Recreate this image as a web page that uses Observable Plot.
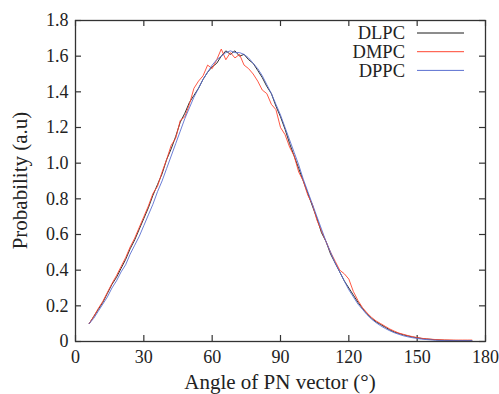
<!DOCTYPE html>
<html>
<head>
<meta charset="utf-8">
<script src="https://cdn.jsdelivr.net/npm/d3@7"></script>
<script src="https://cdn.jsdelivr.net/npm/@observablehq/plot@0.6"></script>
<style>
  html, body { margin: 0; padding: 0; background: #fff; font-family: "Liberation Serif", serif; }
</style>
</head>
<body>
<div id="chart"></div>
<script>
// Angles (degrees), shared by all three series
const angles = [6,8,10,12,14,16,18,20,22,24,26,28,30,32,34,36,38,40,42,44,46,48,50,52,54,56,58,60,62,64,66,68,70,72,74,76,78,80,82,84,86,88,90,92,94,96,98,100,102,104,106,108,110,112,114,116,118,120,122,124,126,128,130,132,134,136,138,140,142,144,146,148,150,152,154,156,158,160,162,164,166,168,170,172,174];

const dlpc = [0.10,0.14,0.18,0.22,0.27,0.32,0.36,0.41,0.46,0.52,0.57,0.63,0.69,0.75,0.82,0.88,0.94,1.02,1.08,1.15,1.23,1.28,1.34,1.38,1.42,1.47,1.51,1.54,1.56,1.60,1.63,1.61,1.63,1.60,1.61,1.58,1.56,1.52,1.48,1.43,1.39,1.32,1.26,1.19,1.11,1.04,0.97,0.90,0.83,0.76,0.69,0.61,0.56,0.49,0.44,0.39,0.34,0.30,0.26,0.22,0.185,0.155,0.13,0.11,0.095,0.08,0.065,0.053,0.045,0.037,0.031,0.025,0.021,0.017,0.014,0.012,0.010,0.008,0.007,0.006,0.006,0.005,0.005,0.005,0.005];

const dmpc = [0.10,0.14,0.185,0.225,0.275,0.325,0.37,0.42,0.47,0.53,0.58,0.64,0.70,0.76,0.83,0.87,0.95,1.02,1.10,1.14,1.24,1.26,1.33,1.42,1.46,1.49,1.55,1.53,1.58,1.64,1.58,1.62,1.59,1.61,1.55,1.53,1.50,1.46,1.41,1.39,1.33,1.30,1.20,1.16,1.09,1.04,0.95,0.90,0.82,0.77,0.68,0.62,0.56,0.50,0.45,0.40,0.38,0.35,0.28,0.23,0.19,0.16,0.135,0.115,0.10,0.085,0.07,0.058,0.047,0.04,0.033,0.027,0.022,0.018,0.015,0.013,0.011,0.010,0.009,0.009,0.008,0.008,0.008,0.008,0.008];

const dppc = [0.10,0.13,0.17,0.21,0.25,0.30,0.34,0.39,0.43,0.49,0.54,0.59,0.65,0.71,0.77,0.84,0.90,0.97,1.04,1.11,1.18,1.25,1.31,1.37,1.42,1.47,1.51,1.55,1.58,1.60,1.62,1.63,1.62,1.62,1.61,1.59,1.56,1.53,1.49,1.44,1.39,1.33,1.27,1.20,1.13,1.06,0.99,0.91,0.84,0.77,0.70,0.63,0.56,0.50,0.44,0.39,0.34,0.29,0.25,0.21,0.18,0.15,0.125,0.105,0.088,0.073,0.06,0.049,0.04,0.032,0.026,0.021,0.017,0.013,0.011,0.009,0.007,0.006,0.005,0.005,0.005,0.005,0.005,0.005,0.005];

const seriesNames = ["DLPC", "DMPC", "DPPC"];
const seriesColors = ["#1a1a1a", "#ff4530", "#5a6fd0"];
const xTicks = [0, 30, 60, 90, 120, 150, 180];
const yTicks = [0, 0.2, 0.4, 0.6, 0.8, 1.0, 1.2, 1.4, 1.6, 1.8];
const xLabel = "Angle of PN vector (°)";
const yLabel = "Probability (a.u)";

const seriesValues = [dlpc, dmpc, dppc];
const data = seriesNames.flatMap((name, i) =>
  angles.map((a, j) => ({series: name, angle: a, p: seriesValues[i][j]}))
);

const W = 499, H = 394;
const mL = 75, mR = 14, mT = 20, mB = 53;
const tickLen = 6;
const xPerPx = 180 / (W - mL - mR);
const yPerPx = 1.8 / (H - mT - mB);
const SERIF = "Liberation Serif";

const plot = Plot.plot({
  width: W,
  height: H,
  marginLeft: mL,
  marginRight: mR,
  marginTop: mT,
  marginBottom: mB,
  x: {domain: [0, 180], ticks: xTicks, label: null},
  y: {domain: [0, 1.8], ticks: yTicks, label: null},
  color: {domain: seriesNames, range: seriesColors},
  marks: [
    Plot.axisX({ticks: xTicks, tickSize: 0, tickPadding: 9, tickFormat: d => String(d), label: null, fontSize: 18, fontFamily: SERIF, fill: "#222"}),
    Plot.axisY({ticks: yTicks, tickSize: 0, tickPadding: 7, tickFormat: d => d === 0 ? "0" : d3.format(".1f")(d), label: null, fontSize: 18, fontFamily: SERIF, fill: "#222"}),
    Plot.ruleX(xTicks, {x: d => d, y1: 0, y2: tickLen * yPerPx, stroke: "#333", strokeWidth: 1.2}),
    Plot.ruleX(xTicks, {x: d => d, y1: 1.8, y2: 1.8 - tickLen * yPerPx, stroke: "#333", strokeWidth: 1.2}),
    Plot.ruleY(yTicks, {y: d => d, x1: 0, x2: tickLen * xPerPx, stroke: "#333", strokeWidth: 1.2}),
    Plot.ruleY(yTicks, {y: d => d, x1: 180, x2: 180 - tickLen * xPerPx, stroke: "#333", strokeWidth: 1.2}),
    Plot.line(data, {x: "angle", y: "p", z: "series", stroke: "series", strokeWidth: 0.9}),
    Plot.frame({stroke: "#333", strokeWidth: 1.3})
  ]
});

document.getElementById("chart").appendChild(plot);

const svg = d3.select(plot);
svg.attr("font-family", SERIF);
// Axis titles
svg.append("text")
  .attr("x", (mL + W - mR) / 2).attr("y", 389)
  .attr("text-anchor", "middle")
  .attr("font-family", SERIF)
  .style("font-size", "21px").attr("fill", "#222")
  .text(xLabel);
svg.append("text")
  .attr("transform", `translate(27, ${(mT + H - mB) / 2}) rotate(-90)`)
  .attr("text-anchor", "middle")
  .attr("font-family", SERIF)
  .style("font-size", "21px").attr("fill", "#222")
  .text(yLabel);

// Legend (top right, inside frame)
seriesNames.forEach((name, i) => {
  const cy = 33 + i * 18.7;
  svg.append("text")
    .attr("x", 405).attr("y", cy).attr("dy", "0.35em")
    .attr("text-anchor", "end")
    .attr("font-family", SERIF)
    .style("font-size", "18.5px").attr("fill", "#222")
    .text(name);
  svg.append("line")
    .attr("x1", 417).attr("x2", 464).attr("y1", cy).attr("y2", cy)
    .attr("stroke", seriesColors[i]).attr("stroke-width", 1);
});
svg.selectAll("text").style("font-family", "'Liberation Serif', serif");
</script>
</body>
</html>
